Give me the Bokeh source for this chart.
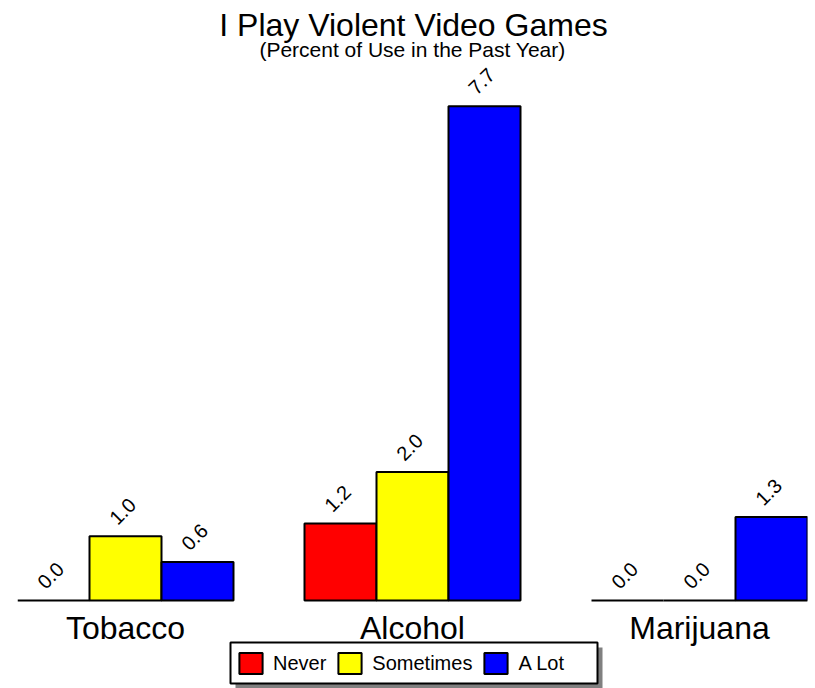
import numpy as np
from bokeh.plotting import figure
from bokeh.models import (FactorRange, Range1d, Legend, LegendItem, Label,
                          ColumnDataSource)
from bokeh.core.properties import value
from bokeh.embed import file_html
from bokeh.resources import INLINE

# ---- data ----
categories = ["Tobacco", "Alcohol", "Marijuana"]
series = ["Never", "Sometimes", "A Lot"]
never = [0.0, 1.2, 0.0]
sometimes = [1.0, 2.0, 0.0]
a_lot = [0.6, 7.7, 1.3]
colors = ["#FF0000", "#FFFF00", "#0000FF"]
title_text = "I Play Violent Video Games"
subtitle_text = "(Percent of Use in the Past Year)"

# ---- layout constants (pixels) ----
W, H = 815, 688
FL = 17           # frame left
FR = 807          # frame right
FW = FR - FL      # frame width
BASE = 600        # baseline y (from top of figure)
PPU = 64.2        # pixels per percent unit
FONT = "Liberation Sans"
GP = 71 / 72      # group padding

factors = [(c, s) for c in categories for s in series]
x_range = FactorRange(*factors, factor_padding=0, group_padding=GP,
                      range_padding=0)
L = len(factors) + GP * (len(categories) - 1)   # synthetic length


def sx(px):
    """figure pixel x -> synthetic x coordinate of the factor range"""
    return (px - FL) / FW * L


y_range = Range1d(-(H - BASE) / PPU, BASE / PPU)

p = figure(width=W, height=H, x_range=x_range, y_range=y_range,
           output_backend="svg", toolbar_location=None,
           x_axis_location=None, y_axis_location=None,
           min_border_left=FL, min_border_right=W - FR,
           min_border_top=0, min_border_bottom=0)
p.grid.visible = False
p.outline_line_color = None
p.background_fill_color = "white"
p.border_fill_color = "white"

# pixel-space y range for decorations (0 at top)
p.extra_y_ranges = {"px": Range1d(H, 0)}

# ---- legend frame with drop shadow ----
p.quad(left=[sx(235)], right=[sx(602)], top=[647], bottom=[688],
       y_range_name="px", fill_color="#808080", line_color=None)
p.quad(left=[sx(230)], right=[sx(597)], top=[642], bottom=[683],
       y_range_name="px", fill_color="white", line_color="black", line_width=2)

# ---- bars ----
renderers = []
for name, vals, col in zip(series, [never, sometimes, a_lot], colors):
    src = ColumnDataSource(dict(
        x=[(c, name) for c in categories],
        top=vals,
        label=[f"{v:.1f}" for v in vals],
    ))
    r = p.vbar(x="x", top="top", width=1, source=src,
               fill_color=col, line_color="black", line_width=2)
    renderers.append(r)
    p.text(x="x", y="top", text="label", source=src, angle=np.pi / 4,
           text_align="center", text_baseline="middle",
           x_offset=-3, y_offset=-25,
           text_font=value(FONT), text_font_size="20px", text_color="black")

# ---- category labels ----
p.text(x=categories, y=[0] * len(categories), text=categories,
       y_offset=27, text_align="center", text_baseline="alphabetic",
       text_font=value(FONT), text_font_size="32px", text_color="black")

# ---- titles ----
p.add_layout(Label(x=sx(413), y=24.5, y_range_name="px",
                   text=title_text, text_align="center",
                   text_baseline="alphabetic", text_font=FONT,
                   text_font_size="32px", text_color="black"))
p.add_layout(Label(x=sx(412), y=49, y_range_name="px",
                   text=subtitle_text, text_align="center",
                   text_baseline="alphabetic", text_font=FONT,
                   text_font_size="21px", text_color="black"))

# ---- legend ----
legend = Legend(
    items=[LegendItem(label=s, renderers=[r]) for s, r in zip(series, renderers)],
    orientation="horizontal", location=(219, 12), margin=0, padding=0,
    spacing=9, label_standoff=8, glyph_width=29, glyph_height=26,
    label_height=26, border_line_alpha=0, background_fill_alpha=0,
    label_text_font=FONT, label_text_font_size="20px",
    label_text_color="black",
)
p.add_layout(legend)

open("out.html", "w").write(file_html(p, INLINE))
